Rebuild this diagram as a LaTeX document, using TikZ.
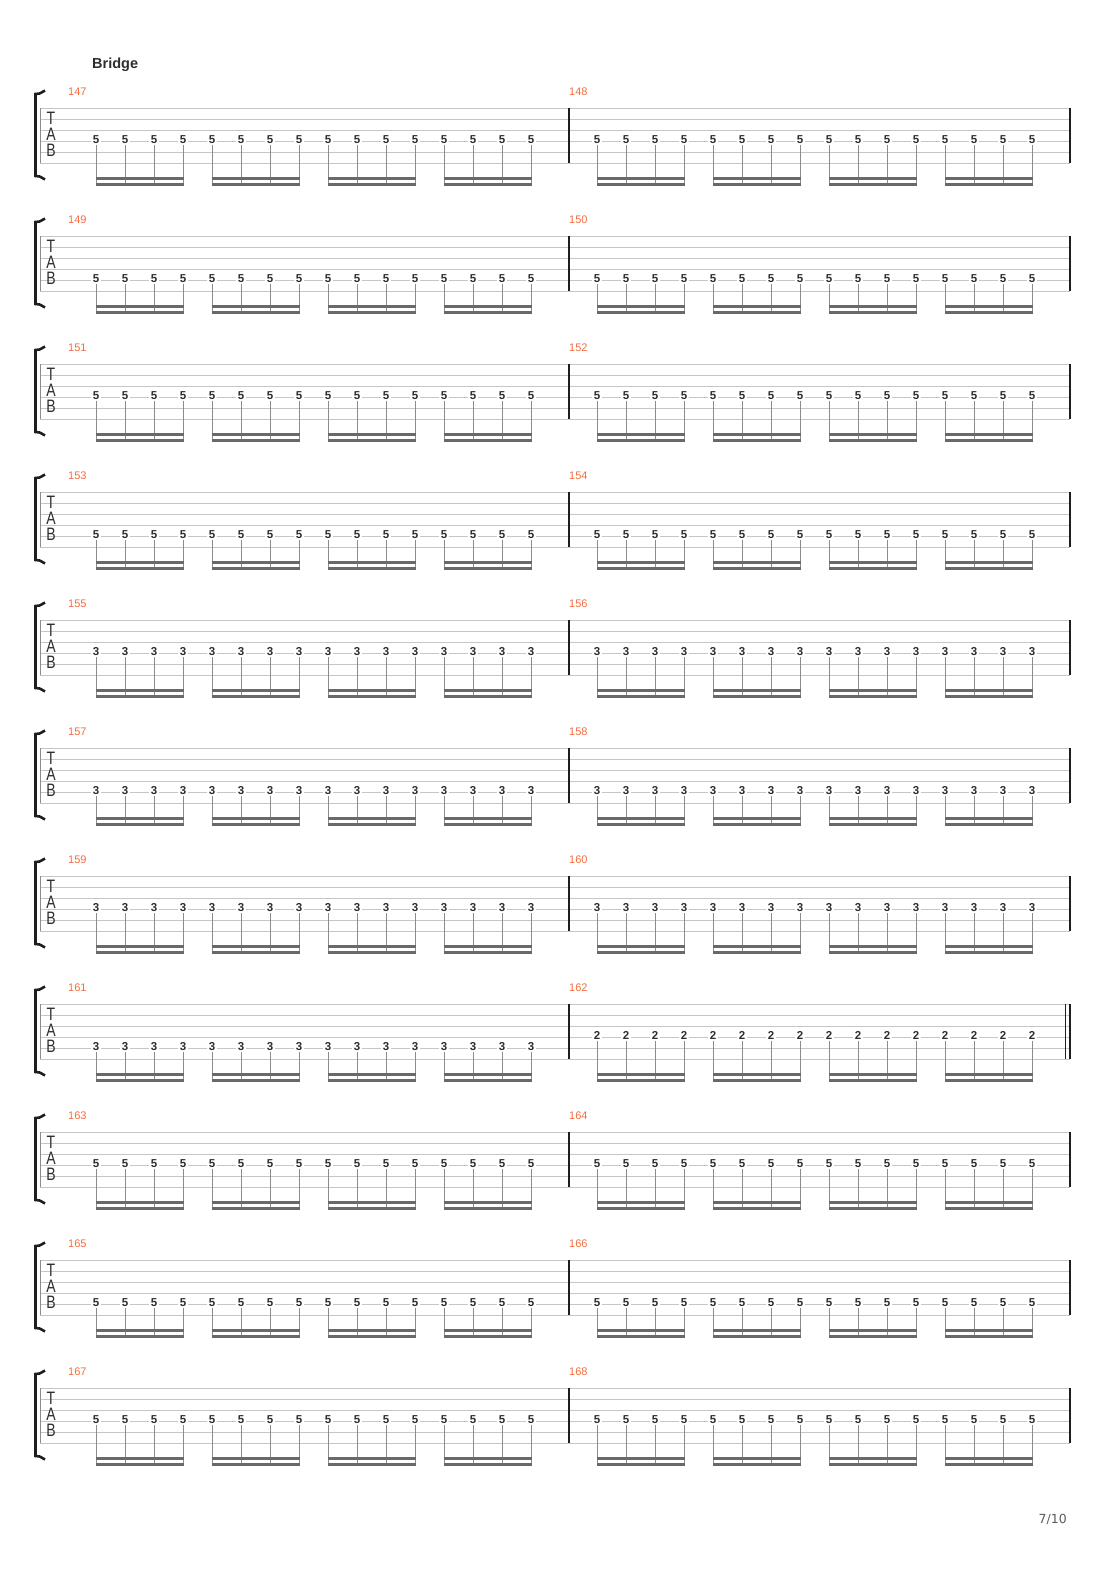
\documentclass[tikz,border=0pt]{standalone}
\usepackage{fontspec}
\setmainfont{Liberation Sans}
\newfontfamily\pagefont{DejaVu Sans}
\definecolor{staffgray}{RGB}{198,198,198}
\definecolor{stemgray}{RGB}{140,140,140}
\definecolor{beamgray}{RGB}{105,105,105}
\definecolor{fretdark}{RGB}{45,45,45}
\definecolor{bardark}{RGB}{30,30,28}
\definecolor{barorange}{RGB}{245,108,62}
\definecolor{pagegray}{RGB}{90,90,90}
\begin{document}
\begin{tikzpicture}[x=1pt, y=-1pt,
    staffline/.style={draw=staffgray, line width=0.9pt},
    barline/.style={draw=bardark, line width=1.2pt},
    brace/.style={draw=bardark, line width=2.6pt},
    fret/.style={font=\fontsize{11.5}{12}\selectfont\bfseries, text=fretdark, fill=white, inner xsep=1.5pt, inner ysep=1pt},
    stem/.style={draw=stemgray, line width=0.9pt},
    beam/.style={draw=beamgray, line width=2.6pt, shorten <=-0.5pt, shorten >=-0.5pt},
    barnum/.style={font=\fontsize{11}{12}\selectfont, text=barorange, inner sep=0pt, anchor=west},
    clef/.style={font=\fontsize{18}{18}\selectfont, text=fretdark, inner sep=0pt}]
  \useasboundingbox (0,0) rectangle (1110,1570);
  \node[font=\fontsize{14.5}{15}\selectfont\bfseries, text=fretdark, inner sep=0pt, anchor=west] (title) at (92,64.5) {Bridge};
  \node[font=\pagefont\fontsize{12.5}{13}\selectfont, text=pagegray, inner sep=0pt, anchor=east] (page) at (1067,1519) {7/10};
  % one system = two bars
  \foreach \ys/\ma/\fa/\la/\fb/\lb in {108/147/5/4/5/4, 236/149/5/5/5/5, 364/151/5/4/5/4, 492/153/5/5/5/5,
      620/155/3/4/3/4, 748/157/3/5/3/5, 876/159/3/4/3/4, 1004/161/3/5/2/4,
      1132/163/5/4/5/4, 1260/165/5/5/5/5, 1388/167/5/4/5/4} {
    \pgfmathtruncatemacro{\mb}{\ma+1}
    \foreach \r in {0,...,5}
      \draw[staffline] (40,{\ys+11*\r}) -- (1070,{\ys+11*\r});
    \draw[draw=stemgray, line width=0.8pt] (40,\ys) -- (40,{\ys+55});
    \draw[brace] (45,{\ys-17.5}) .. controls (39,{\ys-14}) .. (35.5,{\ys-14}) -- (35.5,{\ys+68}) .. controls (39,{\ys+68}) .. (45,{\ys+71.5});
    \node[clef] (t-\ma) at (51,{\ys+10.5}) {\scalebox{0.78}[1]{T}};
    \node[clef] (a-\ma) at (51,{\ys+26.5}) {\scalebox{0.78}[1]{A}};
    \node[clef] (b-\ma) at (51,{\ys+42.5}) {\scalebox{0.78}[1]{B}};
    \draw[barline] (569,\ys) -- (569,{\ys+55});
    \draw[barline] (1070,\ys) -- (1070,{\ys+55});
    \node[barnum] (m-\ma) at (68,{\ys-16}) {\ma};
    \node[barnum] (m-\mb) at (569,{\ys-16}) {\mb};
    % notes, stems, beams
    \foreach \xo/\m/\f/\l in {96/\ma/\fa/\la, 597/\mb/\fb/\lb} {
      \foreach \k in {0,...,15} {
        \node[fret] (f-\m-\k) at ({\xo+29*\k},{\ys+11*(\l-1)-1.5}) {\f};
        \coordinate (s-\m-\k) at ({\xo+29*\k},{\ys+78});
        \draw[stem] (f-\m-\k.south) -- (s-\m-\k);
      }
      \foreach \g in {0,4,8,12} {
        \pgfmathtruncatemacro{\h}{\g+3}
        \draw[beam] ([yshift=1.3pt]s-\m-\g) -- ([yshift=1.3pt]s-\m-\h);
        \draw[beam] ([yshift=7.3pt]s-\m-\g) -- ([yshift=7.3pt]s-\m-\h);
      }
    }
  }
  % closing double bar after 162
  \draw[barline] (1065.5,1004) -- (1065.5,1059);
  \draw[barline, line width=1.6pt] (1070,1004) -- (1070,1059);
\end{tikzpicture}
\end{document}
